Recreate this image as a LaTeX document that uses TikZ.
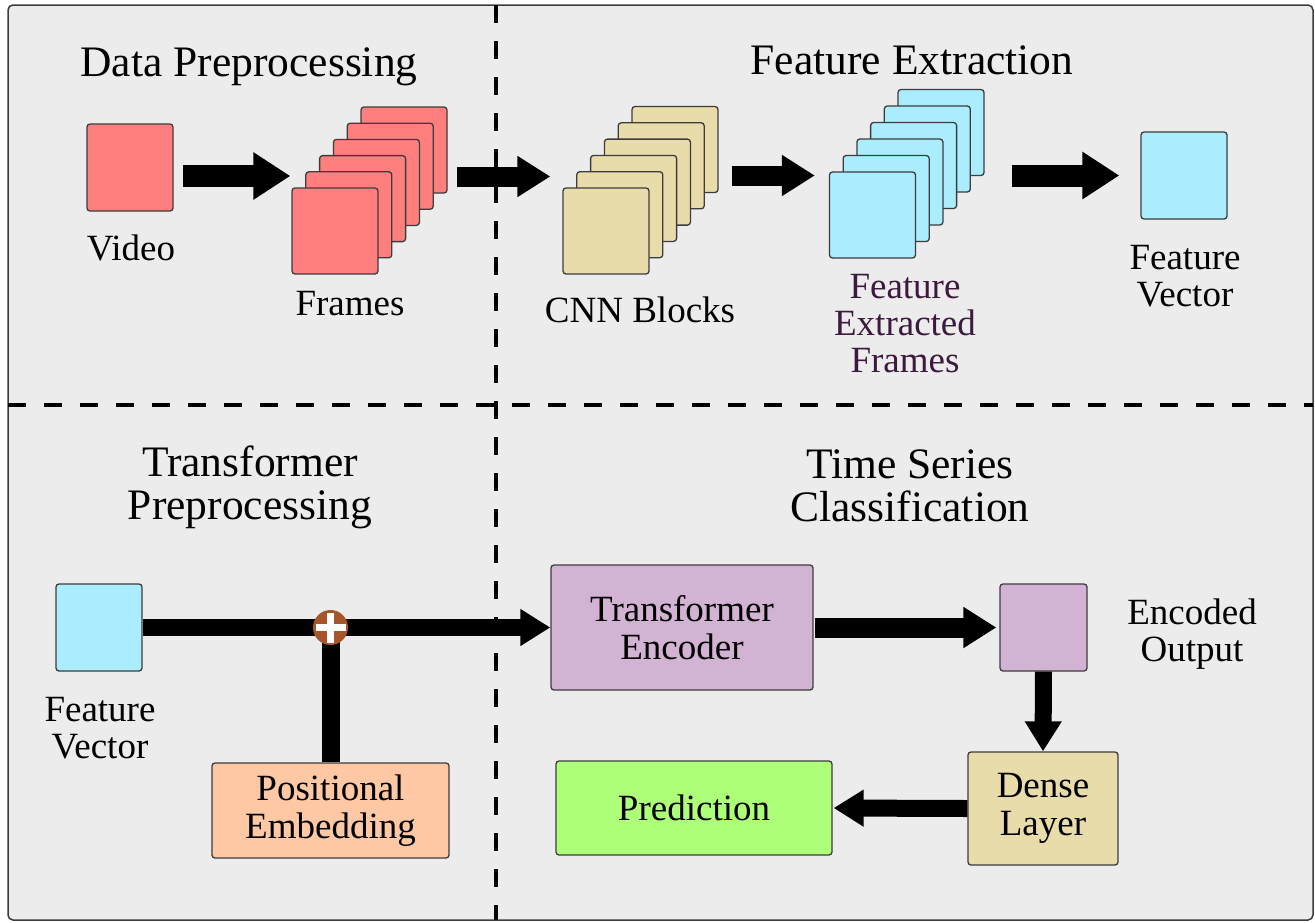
\documentclass[tikz,border=0pt]{standalone}
\usepackage{fontspec}
\setmainfont{Liberation Serif}
\usetikzlibrary{arrows.meta}
\definecolor{bgc}{HTML}{ECECEC}
\definecolor{bord}{HTML}{3C3C3C}
\definecolor{redf}{HTML}{FF7F7F}
\definecolor{beigef}{HTML}{E8DCAB}
\definecolor{cyanf}{HTML}{A9EDFF}
\definecolor{purpf}{HTML}{D3B3D3}
\definecolor{peachf}{HTML}{FFC8A5}
\definecolor{greenf}{HTML}{ADFF7A}
\definecolor{brownf}{HTML}{A5562B}
\definecolor{darkpurp}{HTML}{3D1A3D}
\begin{document}
\begin{tikzpicture}[x=1pt,y=-1pt,
  box/.style={draw=bord, line width=1.3pt, rounded corners=3pt, inner sep=0pt, align=center,
    font=\fontsize{37}{38}\selectfont},
  sq/.style={box, minimum width=86pt, minimum height=86pt},
  lbl/.style={inner sep=0pt, align=center, font=\fontsize{37}{37}\selectfont},
  ttl/.style={inner sep=0pt, align=center, font=\fontsize{43.5}{43}\selectfont},
  sep/.style={line width=4pt, dash pattern=on 18pt off 18pt},
  bigarrow/.style={line width=22pt, -{Triangle[length=37pt,width=45pt]}},
  midarrow/.style={line width=20pt, -{Triangle[length=33pt,width=39pt]}},
  smallarrow/.style={line width=17pt, -{Triangle[length=30pt,width=35pt]}},
  conn/.style={line width=17pt}
]
\useasboundingbox (0,0) rectangle (1315,922);
\fill[white] (0,0) rectangle (1315,922);
\draw[draw=bord, line width=1.5pt, fill=bgc, rounded corners=5pt] (8,5) rectangle (1313,920);

% separators
\coordinate (vt) at (496,5);
\coordinate (vb) at (496,920);
\coordinate (hl) at (8,405);
\coordinate (hr) at (1313,405);
\draw[sep] (vt) -- (vb);
\draw[sep] (hl) -- (hr);

% titles
\node[ttl, anchor=base] (t1) at (249,76) {Data Preprocessing};
\node[ttl, anchor=base] (t2) at (912,74) {Feature Extraction};
\node[ttl, anchor=north] (t3) at (250,446) {Transformer\\Preprocessing};
\node[ttl, anchor=north] (t4) at (910,449) {Time Series\\Classification};

% top row
\node[sq, fill=redf, minimum height=87pt] (video) at (130,167.5) {};
\node[lbl, anchor=base] (videol) at (131,260) {Video};

\foreach \i in {5,4,...,0}{
  \node[sq, fill=redf] (fr\i) at ({335+13.8*\i},{231-16.2*\i}) {};
}
\node[lbl, anchor=base] (frl) at (350,315) {Frames};

\foreach \i in {5,4,...,0}{
  \node[sq, fill=beigef] (cnn\i) at ({606+13.8*\i},{231-16.3*\i}) {};
}
\node[lbl, anchor=base] (cnnl) at (640,322) {CNN Blocks};

\foreach \i in {5,4,...,0}{
  \node[sq, fill=cyanf] (ft\i) at ({872.5+13.7*\i},{215-16.5*\i}) {};
}
\node[lbl, anchor=north, text=darkpurp] (ftl) at (905,274) {Feature\\Extracted\\Frames};

\node[sq, fill=cyanf, minimum height=87pt] (fv1) at (1184,175.5) {};
\node[lbl, anchor=north] (fv1l) at (1185,245.5) {Feature\\Vector};

\coordinate (r1) at (0,176);
\coordinate (r2) at (0,176.5);
\coordinate (r3) at (0,175.5);
\draw[bigarrow] ([xshift=9pt]video.east |- r1) -- ([xshift=-1pt]fr0.west |- r1);
\draw[midarrow] ([xshift=9pt]fr5.east |- r2) -- ([xshift=-12pt]cnn0.west |- r2);
\draw[midarrow] ([xshift=13pt]cnn5.east |- r3) -- ([xshift=-14pt]ft0.west |- r3);
\draw[bigarrow] ([xshift=27pt]ft5.east |- r3) -- ([xshift=-21pt]fv1.west |- r3);

% bottom left
\node[sq, fill=cyanf, minimum height=87pt] (fv2) at (99,627.5) {};
\node[lbl, anchor=north] (fv2l) at (100,697.5) {Feature\\Vector};
\node[box, fill=peachf, minimum width=237pt, minimum height=95pt] (pe) at (330.5,810.5) {Positional\\Embedding};

% bottom right
\node[box, fill=purpf, minimum width=262pt, minimum height=125pt] (te) at (682,627.5) {Transformer\\Encoder};
\node[sq, fill=purpf, minimum width=87pt, minimum height=87pt] (eo) at (1043.5,627.5) {};
\node[lbl, anchor=north] (eol) at (1192,599) {Encoded\\Output};
\node[box, fill=beigef, minimum width=150pt, minimum height=113pt] (dense) at (1043,808.5) {Dense\\Layer};
\node[box, fill=greenf, minimum width=276pt, minimum height=94pt] (pred) at (694,808) {Prediction};

% connectors bottom
\draw[smallarrow] (fv2.east) -- (te.west);
\draw[line width=18pt] (pe.north) -- (pe.north |- fv2.east);
\node[circle, fill=brownf, minimum size=35pt, inner sep=0pt] (add) at (pe.north |- fv2.east) {};
\draw[white, line width=7pt] ([xshift=-15pt]add.center) -- ([xshift=15pt]add.center);
\draw[white, line width=7pt] ([yshift=-15pt]add.center) -- ([yshift=15pt]add.center);

\draw[midarrow] ([xshift=1pt]te.east) -- ([xshift=-3pt]eo.west);
\draw[smallarrow] (eo.south) -- (dense.north);
\draw[smallarrow] (dense.west) -- ([xshift=1pt]pred.east);
\end{tikzpicture}
\end{document}
